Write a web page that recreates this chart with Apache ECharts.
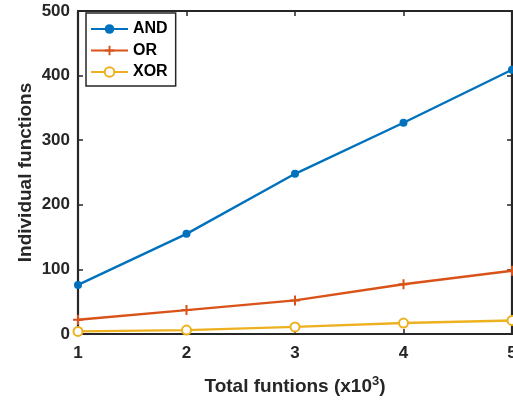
<!DOCTYPE html>
<html><head><meta charset="utf-8">
<script src="https://cdn.jsdelivr.net/npm/echarts@6/dist/echarts.min.js"></script>
<style>html,body{margin:0;padding:0;background:#fff}#c{width:513px;height:405px}</style>
</head><body><div id="c"></div>
<script>
const xValues = [1, 2, 3, 4, 5];
const andValues = [76, 155, 248, 327, 409];
const orValues = [22, 37, 52, 77, 98];
const xorValues = [4, 6, 11, 17, 21];
const seriesNames = ['AND', 'OR', 'XOR'];
const colors = ['#0072BD', '#D95319', '#EDB120'];

const pair = v => xValues.map((x, i) => [x, v[i]]);
const font = 'Arial, "Liberation Sans", Helvetica, sans-serif';
const axisCol = '#262626';
const lineAxis = { show: true, onZero: false, lineStyle: { color: axisCol, width: 2.2 } };
const tick = { show: true, inside: true, length: 5, lineStyle: { color: axisCol, width: 1.5 } };

const chart = echarts.init(document.getElementById('c'));
chart.setOption({
  animation: false,
  textStyle: { fontFamily: font },
  grid: { left: 78, right: 1, top: 11, bottom: 71, outerBoundsMode: 'none', containLabel: false },
  legend: {
    orient: 'vertical', left: 86, top: 13,
    itemWidth: 37, itemHeight: 12, itemGap: 5.5,
    padding: [8, 8, 6, 4],
    borderColor: axisCol, borderWidth: 1.5, backgroundColor: '#fff',
    textStyle: { fontFamily: font, fontWeight: 'bold', fontSize: 16, lineHeight: 16, color: '#000', padding: [0,0,0,0] },
    data: seriesNames
  },
  xAxis: [{
    type: 'value', min: 1, max: 5, interval: 1,
    name: '{a|Total funtions (x10}{s|3}{a|)}', nameLocation: 'middle', nameGap: 41,
    nameTextStyle: { rich: {
      a: { fontFamily: font, fontWeight: 'bold', fontSize: 19, color: '#262626' },
      s: { fontFamily: font, fontWeight: 'bold', fontSize: 13, color: '#262626', verticalAlign: 'top', padding: [0,0,10,0] }
    } },
    axisLine: lineAxis, axisTick: tick,
    axisLabel: { fontFamily: font, fontWeight: 'bold', fontSize: 17, color: '#262626', margin: 11 },
    splitLine: { show: false }
  }, {
    type: 'value', min: 1, max: 5, interval: 1, position: 'top',
    axisLine: lineAxis, axisTick: tick,
    axisLabel: { show: false }, splitLine: { show: false }
  }],
  yAxis: [{
    type: 'value', min: 0, max: 500, interval: 100,
    name: 'Individual functions', nameLocation: 'middle', nameGap: 43, nameMoveOverlap: false,
    nameTextStyle: { fontFamily: font, fontWeight: 'bold', fontSize: 19, color: '#262626' },
    axisLine: lineAxis, axisTick: tick,
    axisLabel: { fontFamily: font, fontWeight: 'bold', fontSize: 17, color: '#262626', margin: 8 },
    splitLine: { show: false }
  }, {
    type: 'value', min: 0, max: 500, interval: 100, position: 'right',
    axisLine: lineAxis, axisTick: tick,
    axisLabel: { show: false }, splitLine: { show: false }
  }],
  series: [{
    name: 'AND', type: 'line', data: pair(andValues),
    symbol: 'circle', symbolSize: 8, clip: false,
    lineStyle: { color: colors[0], width: 2.4 }, itemStyle: { color: colors[0] }
  }, {
    name: 'OR', type: 'line', data: pair(orValues),
    symbol: 'path://M4,0H6V4H10V6H6V10H4V6H0V4H4Z', symbolSize: 10, clip: false,
    lineStyle: { color: colors[1], width: 2.4 }, itemStyle: { color: colors[1] }
  }, {
    name: 'XOR', type: 'line', data: pair(xorValues),
    symbol: 'emptyCircle', symbolSize: 9, clip: false,
    lineStyle: { color: colors[2], width: 2.4 },
    itemStyle: { color: colors[2], borderColor: colors[2], borderWidth: 2 }
  }]
});
</script></body></html>
